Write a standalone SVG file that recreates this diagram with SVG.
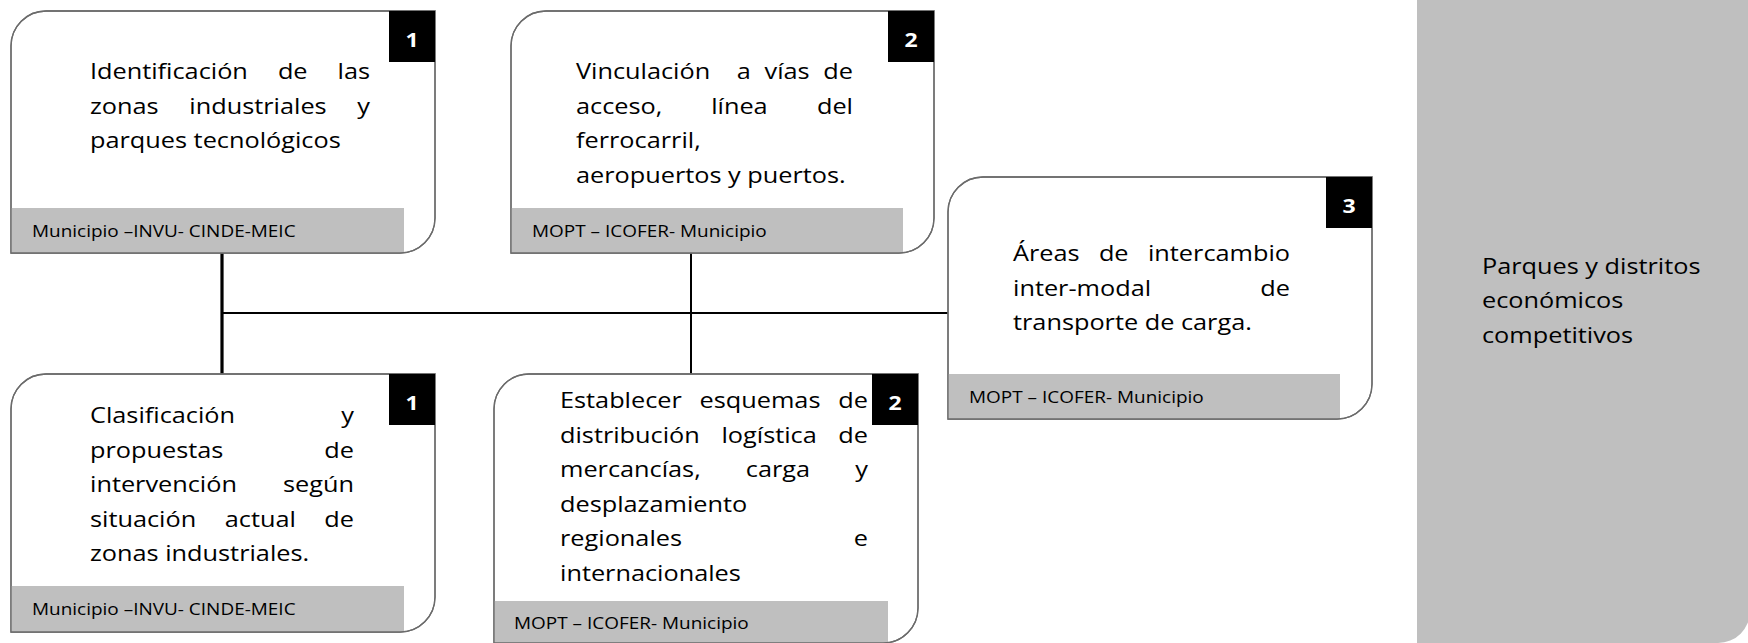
<svg xmlns="http://www.w3.org/2000/svg" width="1748" height="643" viewBox="0 0 1748 643">
<style>
.box{fill:#fff;stroke:#6b6b6b;stroke-width:1.3}
.band{fill:#bfbfbf}
.badge{fill:#000}
.num{font-family:"Open Sans","Noto Sans",sans-serif;font-weight:bold;font-size:20px;fill:#fff;text-anchor:middle}
.t{font-family:"Open Sans","Noto Sans",sans-serif;font-size:22px;fill:#000}
.f{font-family:"Open Sans","Noto Sans",sans-serif;font-size:16.5px;fill:#000}
.m{text-anchor:middle}
.e{text-anchor:end}
.ln{stroke:#000;fill:none}
</style>
<rect width="1748" height="643" fill="#fff"/>
<g id="connectors">
<line class="ln" x1="222" y1="253" x2="222" y2="374" stroke-width="3.2"/>
<line class="ln" x1="222" y1="313" x2="948" y2="313" stroke-width="2"/>
<line class="ln" x1="691" y1="253" x2="691" y2="374" stroke-width="2"/>
</g>
<g id="node-identificacion">
<path class="box" d="M11,46 A35,35 0 0 1 46,11 L435,11 L435,218 A35,35 0 0 1 400,253 L11,253 Z"/>
<rect class="band" x="11" y="208" width="393" height="45"/>
<path class="box" fill="none" style="fill:none" d="M11,46 A35,35 0 0 1 46,11 L435,11 L435,218 A35,35 0 0 1 400,253 L11,253 Z"/>
<rect class="badge" x="389" y="11" width="46" height="51"/>
<text class="num" transform="translate(412,47) scale(1.15,1)">1</text>
<text class="t" transform="translate(90,79) scale(1.15,1)">Identificación</text>
<text class="t m" transform="translate(292.7,79) scale(1.15,1)">de</text>
<text class="t e" transform="translate(370,79) scale(1.15,1)">las</text>
<text class="t" transform="translate(90,113.5) scale(1.15,1)">zonas</text>
<text class="t m" transform="translate(258,113.5) scale(1.15,1)">industriales</text>
<text class="t e" transform="translate(370,113.5) scale(1.15,1)">y</text>
<text class="t" transform="translate(90,148) scale(1.15,1)">parques tecnológicos</text>
<text class="f" transform="translate(32,237) scale(1.15,1)">Municipio –INVU- CINDE-MEIC</text>
</g>
<g id="node-vinculacion">
<path class="box" d="M511,46 A35,35 0 0 1 546,11 L934,11 L934,218 A35,35 0 0 1 899,253 L511,253 Z"/>
<rect class="band" x="511" y="208" width="392" height="45"/>
<path class="box" style="fill:none" d="M511,46 A35,35 0 0 1 546,11 L934,11 L934,218 A35,35 0 0 1 899,253 L511,253 Z"/>
<rect class="badge" x="888" y="11" width="46" height="51"/>
<text class="num" transform="translate(911,47) scale(1.15,1)">2</text>
<text class="t" transform="translate(576,79) scale(1.15,1)">Vinculación</text>
<text class="t" transform="translate(736.8,79) scale(1.15,1)">a</text>
<text class="t" transform="translate(764.5,79) scale(1.15,1)">vías</text>
<text class="t e" transform="translate(853,79) scale(1.15,1)">de</text>
<text class="t" transform="translate(576,113.5) scale(1.15,1)">acceso,</text>
<text class="t m" transform="translate(739.4,113.5) scale(1.15,1)">línea</text>
<text class="t e" transform="translate(853,113.5) scale(1.15,1)">del</text>
<text class="t" transform="translate(576,148) scale(1.15,1)">ferrocarril,</text>
<text class="t" transform="translate(576,182.5) scale(1.15,1)">aeropuertos y puertos.</text>
<text class="f" transform="translate(532,237) scale(1.15,1)">MOPT – ICOFER- Municipio</text>
</g>
<g id="node-areas">
<path class="box" d="M948,212 A35,35 0 0 1 983,177 L1372,177 L1372,384 A35,35 0 0 1 1337,419 L948,419 Z"/>
<rect class="band" x="948" y="374" width="392" height="45"/>
<path class="box" style="fill:none" d="M948,212 A35,35 0 0 1 983,177 L1372,177 L1372,384 A35,35 0 0 1 1337,419 L948,419 Z"/>
<rect class="badge" x="1326" y="177" width="46" height="51"/>
<text class="num" transform="translate(1349,213) scale(1.15,1)">3</text>
<text class="t" transform="translate(1013,261) scale(1.15,1)">Áreas</text>
<text class="t m" transform="translate(1113.7,261) scale(1.15,1)">de</text>
<text class="t e" transform="translate(1290,261) scale(1.15,1)">intercambio</text>
<text class="t" transform="translate(1013,295.5) scale(1.15,1)">inter-modal</text>
<text class="t e" transform="translate(1290,295.5) scale(1.15,1)">de</text>
<text class="t" transform="translate(1013,330) scale(1.15,1)">transporte de carga.</text>
<text class="f" transform="translate(969,403) scale(1.15,1)">MOPT – ICOFER- Municipio</text>
</g>
<g id="node-clasificacion">
<path class="box" d="M11,409 A35,35 0 0 1 46,374 L435,374 L435,597 A35,35 0 0 1 400,632 L11,632 Z"/>
<rect class="band" x="11" y="586" width="393" height="46"/>
<path class="box" style="fill:none" d="M11,409 A35,35 0 0 1 46,374 L435,374 L435,597 A35,35 0 0 1 400,632 L11,632 Z"/>
<rect class="badge" x="389" y="374" width="46" height="51"/>
<text class="num" transform="translate(412,410) scale(1.15,1)">1</text>
<text class="t" transform="translate(90,423) scale(1.15,1)">Clasificación</text>
<text class="t e" transform="translate(354,423) scale(1.15,1)">y</text>
<text class="t" transform="translate(90,457.5) scale(1.15,1)">propuestas</text>
<text class="t e" transform="translate(354,457.5) scale(1.15,1)">de</text>
<text class="t" transform="translate(90,492) scale(1.15,1)">intervención</text>
<text class="t e" transform="translate(354,492) scale(1.15,1)">según</text>
<text class="t" transform="translate(90,526.5) scale(1.15,1)">situación</text>
<text class="t m" transform="translate(260.3,526.5) scale(1.15,1)">actual</text>
<text class="t e" transform="translate(354,526.5) scale(1.15,1)">de</text>
<text class="t" transform="translate(90,561) scale(1.15,1)">zonas industriales.</text>
<text class="f" transform="translate(32,615) scale(1.15,1)">Municipio –INVU- CINDE-MEIC</text>
</g>
<g id="node-establecer">
<path class="box" d="M494,409 A35,35 0 0 1 529,374 L918,374 L918,608 A35,35 0 0 1 883,643 L494,643 Z"/>
<rect class="band" x="494" y="601" width="394" height="42"/>
<path class="box" style="fill:none" d="M494,409 A35,35 0 0 1 529,374 L918,374 L918,608 A35,35 0 0 1 883,643 L494,643 Z"/>
<rect class="badge" x="872" y="374" width="46" height="51"/>
<text class="num" transform="translate(895,410) scale(1.15,1)">2</text>
<text class="t" transform="translate(560,408) scale(1.15,1)">Establecer</text>
<text class="t m" transform="translate(760,408) scale(1.15,1)">esquemas</text>
<text class="t e" transform="translate(868,408) scale(1.15,1)">de</text>
<text class="t" transform="translate(560,442.5) scale(1.15,1)">distribución</text>
<text class="t m" transform="translate(769.1,442.5) scale(1.15,1)">logística</text>
<text class="t e" transform="translate(868,442.5) scale(1.15,1)">de</text>
<text class="t" transform="translate(560,477) scale(1.15,1)">mercancías,</text>
<text class="t m" transform="translate(777.9,477) scale(1.15,1)">carga</text>
<text class="t e" transform="translate(868,477) scale(1.15,1)">y</text>
<text class="t" transform="translate(560,511.5) scale(1.15,1)">desplazamiento</text>
<text class="t" transform="translate(560,546) scale(1.15,1)">regionales</text>
<text class="t e" transform="translate(868,546) scale(1.15,1)">e</text>
<text class="t" transform="translate(560,580.5) scale(1.15,1)">internacionales</text>
<text class="f" transform="translate(514,628.5) scale(1.15,1)">MOPT – ICOFER- Municipio</text>
</g>
<g id="node-parques">
<path class="band" d="M1417,0 L1750,0 L1750,611 A32,32 0 0 1 1718,643 L1417,643 Z"/>
<text class="t" transform="translate(1482,273.5) scale(1.15,1)">Parques y distritos</text>
<text class="t" transform="translate(1482,308) scale(1.15,1)">económicos</text>
<text class="t" transform="translate(1482,342.5) scale(1.15,1)">competitivos</text>
</g>
</svg>
